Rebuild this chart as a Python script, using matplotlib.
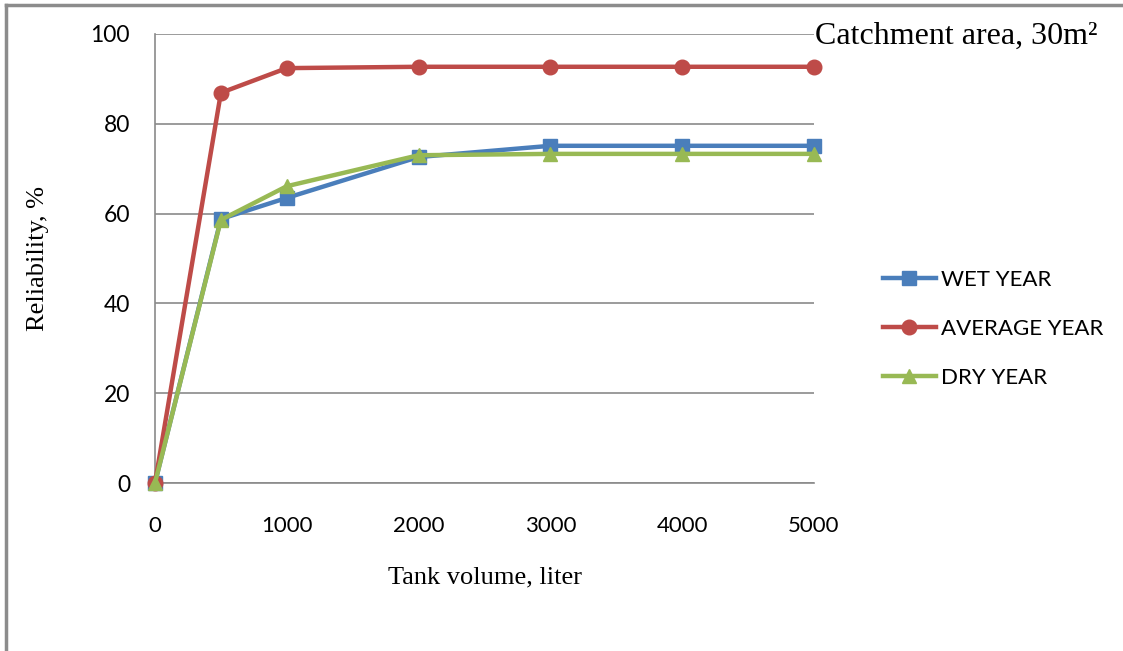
import matplotlib
matplotlib.use("Agg")
import matplotlib.pyplot as plt
from matplotlib.lines import Line2D

# Tank volume (liter) vs reliability (%) for three rainfall years
volume = [0, 500, 1000, 2000, 3000, 4000, 5000]
wet_year = [0, 58.8, 63.5, 72.6, 75.1, 75.1, 75.1]
average_year = [0, 86.9, 92.4, 92.7, 92.7, 92.7, 92.7]
dry_year = [0, 58.6, 66.1, 73.0, 73.3, 73.3, 73.3]

x_ticks = [0, 1000, 2000, 3000, 4000, 5000]
y_ticks = [0, 20, 40, 60, 80, 100]

BLUE = "#4A7EBB"
RED = "#BE4B48"
GREEN = "#98B954"
GRID = "#8a8a8a"

SANS = ["Lato", "DejaVu Sans"]
SERIF = ["Liberation Serif", "DejaVu Serif"]

fig = plt.figure(figsize=(11.23, 6.51), dpi=100)
ax = fig.add_axes([155 / 1123, 1 - 483 / 651, (814 - 155) / 1123, (483 - 34) / 651])

ax.plot(volume, wet_year, color=BLUE, lw=3.2, marker="s", ms=10,
        label="WET YEAR", zorder=3, clip_on=False)
ax.plot(volume, average_year, color=RED, lw=3.2, marker="o", ms=10.5,
        label="AVERAGE YEAR", zorder=3, clip_on=False)
ax.plot(volume, dry_year, color=GREEN, lw=3.2, marker="^", ms=10.5,
        label="DRY YEAR", zorder=3, clip_on=False)

ax.set_xlim(0, 5000)
ax.set_ylim(0, 100)
ax.set_xticks(x_ticks)
ax.set_yticks(y_ticks)
ax.set_xticklabels([str(v) for v in x_ticks], family=SANS, fontsize=16)
ax.set_yticklabels([str(v) for v in y_ticks], family=SANS, fontsize=16.5)
ax.tick_params(length=0)
ax.tick_params(axis="x", pad=24)
ax.tick_params(axis="y", pad=18)

ax.grid(axis="y", color=GRID, lw=1.2)
ax.set_axisbelow(True)
for side in ("top", "right"):
    ax.spines[side].set_visible(False)
for side in ("left", "bottom"):
    ax.spines[side].set_color(GRID)
    ax.spines[side].set_linewidth(1.2)

ax.set_xlabel("Tank volume, liter", family=SERIF, fontsize=19, labelpad=22)
ax.set_ylabel("Reliability, %", family=SERIF, fontsize=19, labelpad=30)

fig.text(815 / 1123, 1 - 36 / 651, "Catchment area, 30m²", family=SERIF,
         fontsize=23, ha="left", va="center")

leg = ax.legend(loc="center left", bbox_to_anchor=(1.074, 0.343), frameon=False,
                prop={"family": SANS, "size": 16}, handlelength=2.4,
                handletextpad=0.2, labelspacing=1.3)

# outer chart border
fig.add_artist(Line2D([6 / 1123, 6 / 1123], [0, 1 - 5 / 651], color="#8c8c8c",
                      lw=2.5, transform=fig.transFigure))
fig.add_artist(Line2D([6 / 1123, 1], [1 - 5 / 651, 1 - 5 / 651], color="#8c8c8c",
                      lw=2.5, transform=fig.transFigure))

fig.savefig("out.png", dpi=100)
